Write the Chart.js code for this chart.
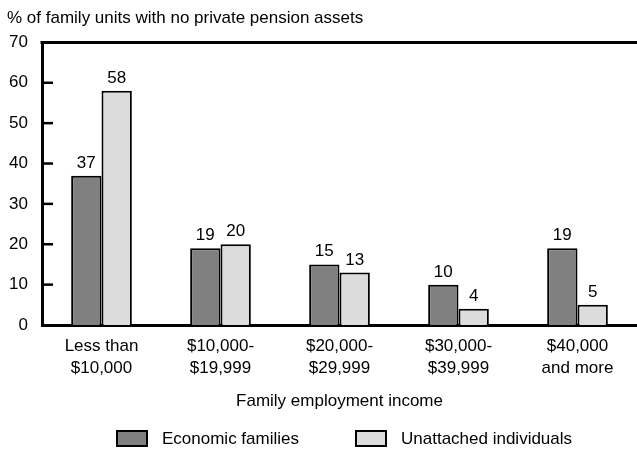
<!DOCTYPE html>
<html lang="en">
<head>
  <meta charset="UTF-8" />
  <title>Private pension assets by family employment income</title>
  <script src="https://cdn.jsdelivr.net/npm/chart.js"></script>
  <style>
    body {
      margin: 0;
      background: #fff;
    }
    canvas {
      display: block;
    }
  </style>
</head>
<body>
  <canvas id="pensionChart" width="637" height="450"></canvas>

  <script>
    const incomeGroups = [
      ["Less than", "$10,000"],
      ["$10,000-", "$19,999"],
      ["$20,000-", "$29,999"],
      ["$30,000-", "$39,999"],
      ["$40,000", "and more"]
    ];
    const economicFamilies = [37, 19, 15, 10, 19];
    const unattachedIndividuals = [58, 20, 13, 4, 5];
    const yTicks = [0, 10, 20, 30, 40, 50, 60, 70];
    const seriesNames = ["Economic families", "Unattached individuals"];

    const FONT = "'Liberation Sans', Arial, sans-serif";
    const FONT_SIZE = 17;

    // value labels, inward y ticks, top frame line and the legend row
    const extras = {
      id: "extras",
      afterDatasetsDraw(chart) {
        const ctx = chart.ctx;
        ctx.save();
        ctx.fillStyle = "#000";
        ctx.font = FONT_SIZE + "px " + FONT;
        ctx.textAlign = "center";
        ctx.textBaseline = "alphabetic";
        chart.data.datasets.forEach((ds, i) => {
          chart.getDatasetMeta(i).data.forEach((bar, j) => {
            ctx.fillText(ds.data[j], bar.x, bar.y - 8);
          });
        });
        ctx.restore();
      },
      afterDraw(chart) {
        const ctx = chart.ctx;
        const area = chart.chartArea;
        const y = chart.scales.y;
        ctx.save();
        ctx.strokeStyle = "#000";
        ctx.lineWidth = 3;
        ctx.beginPath();
        ctx.moveTo(area.left - 1.5, y.getPixelForValue(70));
        ctx.lineTo(chart.width, y.getPixelForValue(70));
        ctx.stroke();
        ctx.lineWidth = 2.5;
        yTicks.slice(1, -1).forEach(v => {
          const py = y.getPixelForValue(v);
          ctx.beginPath();
          ctx.moveTo(area.left, py);
          ctx.lineTo(area.left + 11, py);
          ctx.stroke();
        });

        // legend
        const boxX = [117, 356];
        const boxY = 431;
        ctx.font = FONT_SIZE + "px " + FONT;
        ctx.textAlign = "left";
        ctx.textBaseline = "middle";
        ctx.lineWidth = 2;
        chart.data.datasets.forEach((ds, i) => {
          ctx.fillStyle = ds.backgroundColor;
          ctx.fillRect(boxX[i], boxY, 30, 15);
          ctx.strokeRect(boxX[i], boxY, 30, 15);
          ctx.fillStyle = "#000";
          ctx.fillText(seriesNames[i], boxX[i] + 45, boxY + 8);
        });
        ctx.restore();
      }
    };

    new Chart(document.getElementById("pensionChart"), {
      type: "bar",
      data: {
        labels: incomeGroups,
        datasets: [
          {
            label: seriesNames[0],
            data: economicFamilies,
            backgroundColor: "#808080",
            borderColor: "#000",
            borderWidth: 2
          },
          {
            label: seriesNames[1],
            data: unattachedIndividuals,
            backgroundColor: "#dcdcdc",
            borderColor: "#000",
            borderWidth: 2
          }
        ]
      },
      options: {
        responsive: false,
        animation: false,
        layout: { padding: { left: 7, right: 0, top: 0, bottom: 35 } },
        datasets: {
          bar: { categoryPercentage: 0.51, barPercentage: 1 }
        },
        plugins: {
          title: {
            display: true,
            text: "% of family units with no private pension assets",
            align: "start",
            color: "#000",
            font: { family: FONT, size: FONT_SIZE, weight: "normal", lineHeight: 1.2 },
            padding: { top: 8, bottom: 14 }
          },
          legend: { display: false },
          tooltip: { enabled: false }
        },
        scales: {
          x: {
            afterFit: axis => { axis.height = 90; },
            grid: { display: false, drawTicks: false },
            border: { color: "#000", width: 3 },
            ticks: {
              color: "#000",
              font: { family: FONT, size: FONT_SIZE, lineHeight: 1.25 },
              padding: 11,
              maxRotation: 0
            },
            title: {
              display: true,
              text: "Family employment income",
              color: "#000",
              font: { family: FONT, size: FONT_SIZE, lineHeight: 1.2 },
              padding: { top: 4, bottom: 3 }
            }
          },
          y: {
            min: 0,
            max: 70,
            afterFit: axis => { axis.width = 35; },
            afterBuildTicks: axis => {
              axis.ticks = yTicks.map(v => ({ value: v }));
            },
            grid: { display: false, drawTicks: false },
            border: { color: "#000", width: 3 },
            ticks: {
              color: "#000",
              font: { family: FONT, size: FONT_SIZE },
              padding: 14
            }
          }
        }
      },
      plugins: [extras]
    });
  </script>
</body>
</html>
